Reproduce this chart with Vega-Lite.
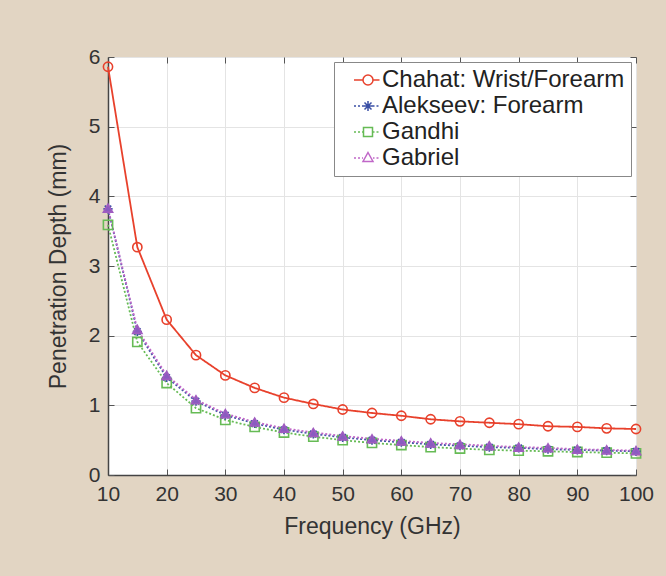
{
  "$schema": "https://vega.github.io/schema/vega-lite/v6.json",
  "width": 528,
  "height": 418,
  "autosize": {"type": "none"},
  "padding": {"left": 108, "top": 57, "right": 30, "bottom": 101},
  "background": "#e2d5c3",
  "config": {
    "font": "Liberation Sans",
    "view": {"fill": "white", "stroke": "#555555", "strokeWidth": 1},
    "axis": {"labelFlush": false, "labelOverlap": false}
  },
  "data": {
    "values": [
      {"f": 10, "d": 5.86, "s": "Chahat: Wrist/Forearm"},
      {"f": 15, "d": 3.27, "s": "Chahat: Wrist/Forearm"},
      {"f": 20, "d": 2.23, "s": "Chahat: Wrist/Forearm"},
      {"f": 25, "d": 1.72, "s": "Chahat: Wrist/Forearm"},
      {"f": 30, "d": 1.43, "s": "Chahat: Wrist/Forearm"},
      {"f": 35, "d": 1.25, "s": "Chahat: Wrist/Forearm"},
      {"f": 40, "d": 1.11, "s": "Chahat: Wrist/Forearm"},
      {"f": 45, "d": 1.02, "s": "Chahat: Wrist/Forearm"},
      {"f": 50, "d": 0.94, "s": "Chahat: Wrist/Forearm"},
      {"f": 55, "d": 0.89, "s": "Chahat: Wrist/Forearm"},
      {"f": 60, "d": 0.85, "s": "Chahat: Wrist/Forearm"},
      {"f": 65, "d": 0.8, "s": "Chahat: Wrist/Forearm"},
      {"f": 70, "d": 0.77, "s": "Chahat: Wrist/Forearm"},
      {"f": 75, "d": 0.75, "s": "Chahat: Wrist/Forearm"},
      {"f": 80, "d": 0.73, "s": "Chahat: Wrist/Forearm"},
      {"f": 85, "d": 0.7, "s": "Chahat: Wrist/Forearm"},
      {"f": 90, "d": 0.69, "s": "Chahat: Wrist/Forearm"},
      {"f": 95, "d": 0.67, "s": "Chahat: Wrist/Forearm"},
      {"f": 100, "d": 0.66, "s": "Chahat: Wrist/Forearm"},
      {"f": 10, "d": 3.59, "s": "Gandhi"},
      {"f": 15, "d": 1.91, "s": "Gandhi"},
      {"f": 20, "d": 1.32, "s": "Gandhi"},
      {"f": 25, "d": 0.96, "s": "Gandhi"},
      {"f": 30, "d": 0.79, "s": "Gandhi"},
      {"f": 35, "d": 0.69, "s": "Gandhi"},
      {"f": 40, "d": 0.61, "s": "Gandhi"},
      {"f": 45, "d": 0.55, "s": "Gandhi"},
      {"f": 50, "d": 0.5, "s": "Gandhi"},
      {"f": 55, "d": 0.46, "s": "Gandhi"},
      {"f": 60, "d": 0.43, "s": "Gandhi"},
      {"f": 65, "d": 0.4, "s": "Gandhi"},
      {"f": 70, "d": 0.38, "s": "Gandhi"},
      {"f": 75, "d": 0.36, "s": "Gandhi"},
      {"f": 80, "d": 0.35, "s": "Gandhi"},
      {"f": 85, "d": 0.34, "s": "Gandhi"},
      {"f": 90, "d": 0.33, "s": "Gandhi"},
      {"f": 95, "d": 0.32, "s": "Gandhi"},
      {"f": 100, "d": 0.31, "s": "Gandhi"},
      {"f": 10, "d": 3.82, "s": "Alekseev: Forearm"},
      {"f": 15, "d": 2.06, "s": "Alekseev: Forearm"},
      {"f": 20, "d": 1.4, "s": "Alekseev: Forearm"},
      {"f": 25, "d": 1.06, "s": "Alekseev: Forearm"},
      {"f": 30, "d": 0.86, "s": "Alekseev: Forearm"},
      {"f": 35, "d": 0.74, "s": "Alekseev: Forearm"},
      {"f": 40, "d": 0.65, "s": "Alekseev: Forearm"},
      {"f": 45, "d": 0.59, "s": "Alekseev: Forearm"},
      {"f": 50, "d": 0.54, "s": "Alekseev: Forearm"},
      {"f": 55, "d": 0.5, "s": "Alekseev: Forearm"},
      {"f": 60, "d": 0.47, "s": "Alekseev: Forearm"},
      {"f": 65, "d": 0.44, "s": "Alekseev: Forearm"},
      {"f": 70, "d": 0.42, "s": "Alekseev: Forearm"},
      {"f": 75, "d": 0.4, "s": "Alekseev: Forearm"},
      {"f": 80, "d": 0.39, "s": "Alekseev: Forearm"},
      {"f": 85, "d": 0.37, "s": "Alekseev: Forearm"},
      {"f": 90, "d": 0.36, "s": "Alekseev: Forearm"},
      {"f": 95, "d": 0.35, "s": "Alekseev: Forearm"},
      {"f": 100, "d": 0.34, "s": "Alekseev: Forearm"},
      {"f": 10, "d": 3.83, "s": "Gabriel"},
      {"f": 15, "d": 2.09, "s": "Gabriel"},
      {"f": 20, "d": 1.43, "s": "Gabriel"},
      {"f": 25, "d": 1.08, "s": "Gabriel"},
      {"f": 30, "d": 0.88, "s": "Gabriel"},
      {"f": 35, "d": 0.76, "s": "Gabriel"},
      {"f": 40, "d": 0.67, "s": "Gabriel"},
      {"f": 45, "d": 0.61, "s": "Gabriel"},
      {"f": 50, "d": 0.56, "s": "Gabriel"},
      {"f": 55, "d": 0.52, "s": "Gabriel"},
      {"f": 60, "d": 0.49, "s": "Gabriel"},
      {"f": 65, "d": 0.46, "s": "Gabriel"},
      {"f": 70, "d": 0.44, "s": "Gabriel"},
      {"f": 75, "d": 0.42, "s": "Gabriel"},
      {"f": 80, "d": 0.4, "s": "Gabriel"},
      {"f": 85, "d": 0.39, "s": "Gabriel"},
      {"f": 90, "d": 0.37, "s": "Gabriel"},
      {"f": 95, "d": 0.36, "s": "Gabriel"},
      {"f": 100, "d": 0.35, "s": "Gabriel"}
    ]
  },
  "layer": [
    {
      "mark": {"type": "line", "strokeWidth": 1.8},
      "encoding": {
        "x": {
          "field": "f", "type": "quantitative",
          "scale": {"domain": [10, 100], "nice": false, "zero": false},
          "axis": {
            "orient": "bottom", "values": [10, 20, 30, 40, 50, 60, 70, 80, 90, 100],
            "grid": true, "gridColor": "#e4e4e4", "gridWidth": 1,
            "domainColor": "#444444", "domainWidth": 1.5,
            "tickColor": "#555555", "tickSize": -6,
            "labelFontSize": 21, "labelColor": "#333333", "labelPadding": 14,
            "title": "Frequency (GHz)", "titleFontSize": 23, "titleFontWeight": "normal",
            "titleColor": "#333333", "titlePadding": 11
          }
        },
        "y": {
          "field": "d", "type": "quantitative",
          "scale": {"domain": [0, 6], "nice": false},
          "axis": {
            "orient": "left", "values": [0, 1, 2, 3, 4, 5, 6],
            "grid": true, "gridColor": "#e4e4e4", "gridWidth": 1,
            "domainColor": "#444444", "domainWidth": 1.5,
            "tickColor": "#555555", "tickSize": -6,
            "labelFontSize": 21, "labelColor": "#333333", "labelPadding": 14,
            "title": "Penetration Depth (mm)", "titleFontSize": 23, "titleFontWeight": "normal",
            "titleColor": "#333333", "titlePadding": 18
          }
        },
        "color": {
          "field": "s", "type": "nominal", "legend": null,
          "scale": {
            "domain": ["Chahat: Wrist/Forearm", "Alekseev: Forearm", "Gandhi", "Gabriel"],
            "range": ["#e8412c", "#4458a8", "#66bb55", "#c067c8"]
          }
        },
        "strokeDash": {
          "field": "s", "type": "nominal", "legend": null,
          "scale": {
            "domain": ["Chahat: Wrist/Forearm", "Alekseev: Forearm", "Gandhi", "Gabriel"],
            "range": [[1, 0], [2, 2], [2, 2], [2, 2]]
          }
        }
      }
    },
    {
      "mark": {"type": "point", "filled": false, "size": 85, "strokeWidth": 1.6, "opacity": 1},
      "encoding": {
        "x": {
          "field": "f", "type": "quantitative",
          "axis": {
            "orient": "top", "values": [10, 20, 30, 40, 50, 60, 70, 80, 90, 100],
            "labels": false, "title": null, "grid": false, "domain": false,
            "tickColor": "#555555", "tickSize": -6
          }
        },
        "y": {
          "field": "d", "type": "quantitative",
          "axis": {
            "orient": "right", "values": [0, 1, 2, 3, 4, 5, 6],
            "labels": false, "title": null, "grid": false, "domain": false,
            "tickColor": "#555555", "tickSize": -6
          }
        },
        "color": {
          "field": "s", "type": "nominal", "legend": null,
          "scale": {
            "domain": ["Chahat: Wrist/Forearm", "Alekseev: Forearm", "Gandhi", "Gabriel"],
            "range": ["#e8412c", "#3a4fa5", "#66bb55", "#a05cc0"]
          }
        },
        "fill": {
          "field": "s", "type": "nominal", "legend": null,
          "scale": {
            "domain": ["Chahat: Wrist/Forearm", "Alekseev: Forearm", "Gandhi", "Gabriel"],
            "range": ["transparent", "transparent", "transparent", "#8a5cc0"]
          }
        },
        "shape": {
          "field": "s", "type": "nominal", "legend": null,
          "scale": {
            "domain": ["Chahat: Wrist/Forearm", "Alekseev: Forearm", "Gandhi", "Gabriel"],
            "range": ["circle", "M0,-1V1M-1,0H1M-0.7,-0.7L0.7,0.7M-0.7,0.7L0.7,-0.7", "square", "triangle-up"]
          }
        }
      }
    },
    {
      "mark": {"type": "point", "filled": false, "opacity": 0, "size": 100, "strokeWidth": 1.5},
      "encoding": {
        "x": {"field": "f", "type": "quantitative", "axis": null},
        "y": {"field": "d", "type": "quantitative", "axis": null},
        "color": {
          "field": "s", "type": "nominal",
          "scale": {
            "domain": ["Chahat: Wrist/Forearm", "Alekseev: Forearm", "Gandhi", "Gabriel"],
            "range": ["#e8412c", "#3a4fa5", "#66bb55", "#c067c8"]
          },
          "legend": {
            "title": null, "orient": "top-right", "offset": 5,
            "fillColor": "white", "strokeColor": "#888888", "padding": 6,
            "labelFontSize": 24, "labelColor": "#222222", "labelOffset": 18, "labelLimit": 400,
            "symbolSize": 100, "symbolStrokeWidth": 1.5, "symbolOpacity": 1,
            "rowPadding": 2
          }
        },
        "shape": {
          "field": "s", "type": "nominal",
          "scale": {
            "domain": ["Chahat: Wrist/Forearm", "Alekseev: Forearm", "Gandhi", "Gabriel"],
            "range": [
              "M0.4,0H2.2A1,1 0 1,0 4.2,0A1,1 0 1,0 2.2,0M4.2,0H5.5",
              "M0.4,0H0.8M1.2,0H1.6M2,0H2.2M3.2,-1V1M2.2,0H4.2M2.5,-0.7L3.9,0.7M2.5,0.7L3.9,-0.7M4.2,0H4.5M4.9,0H5.3",
              "M0.4,0H0.8M1.2,0H1.6M2,0H2.3M2.3,-0.9H4.1V0.9H2.3ZM4.1,0H4.5M4.9,0H5.3",
              "M0.4,0H0.8M1.2,0H1.6M2,0H2.2M3.2,-1.1L4.2,0.7H2.2ZM4.2,0H4.5M4.9,0H5.3"
            ]
          },
          "legend": {
            "title": null, "orient": "top-right", "offset": 5,
            "fillColor": "white", "strokeColor": "#888888", "padding": 6,
            "labelFontSize": 24, "labelColor": "#222222", "labelOffset": 18, "labelLimit": 400,
            "symbolSize": 100, "symbolStrokeWidth": 1.5, "symbolOpacity": 1,
            "rowPadding": 2
          }
        }
      }
    }
  ],
  "resolve": {
    "scale": {"color": "independent", "shape": "independent", "fill": "independent", "strokeDash": "independent"},
    "axis": {"x": "independent", "y": "independent"}
  }
}
